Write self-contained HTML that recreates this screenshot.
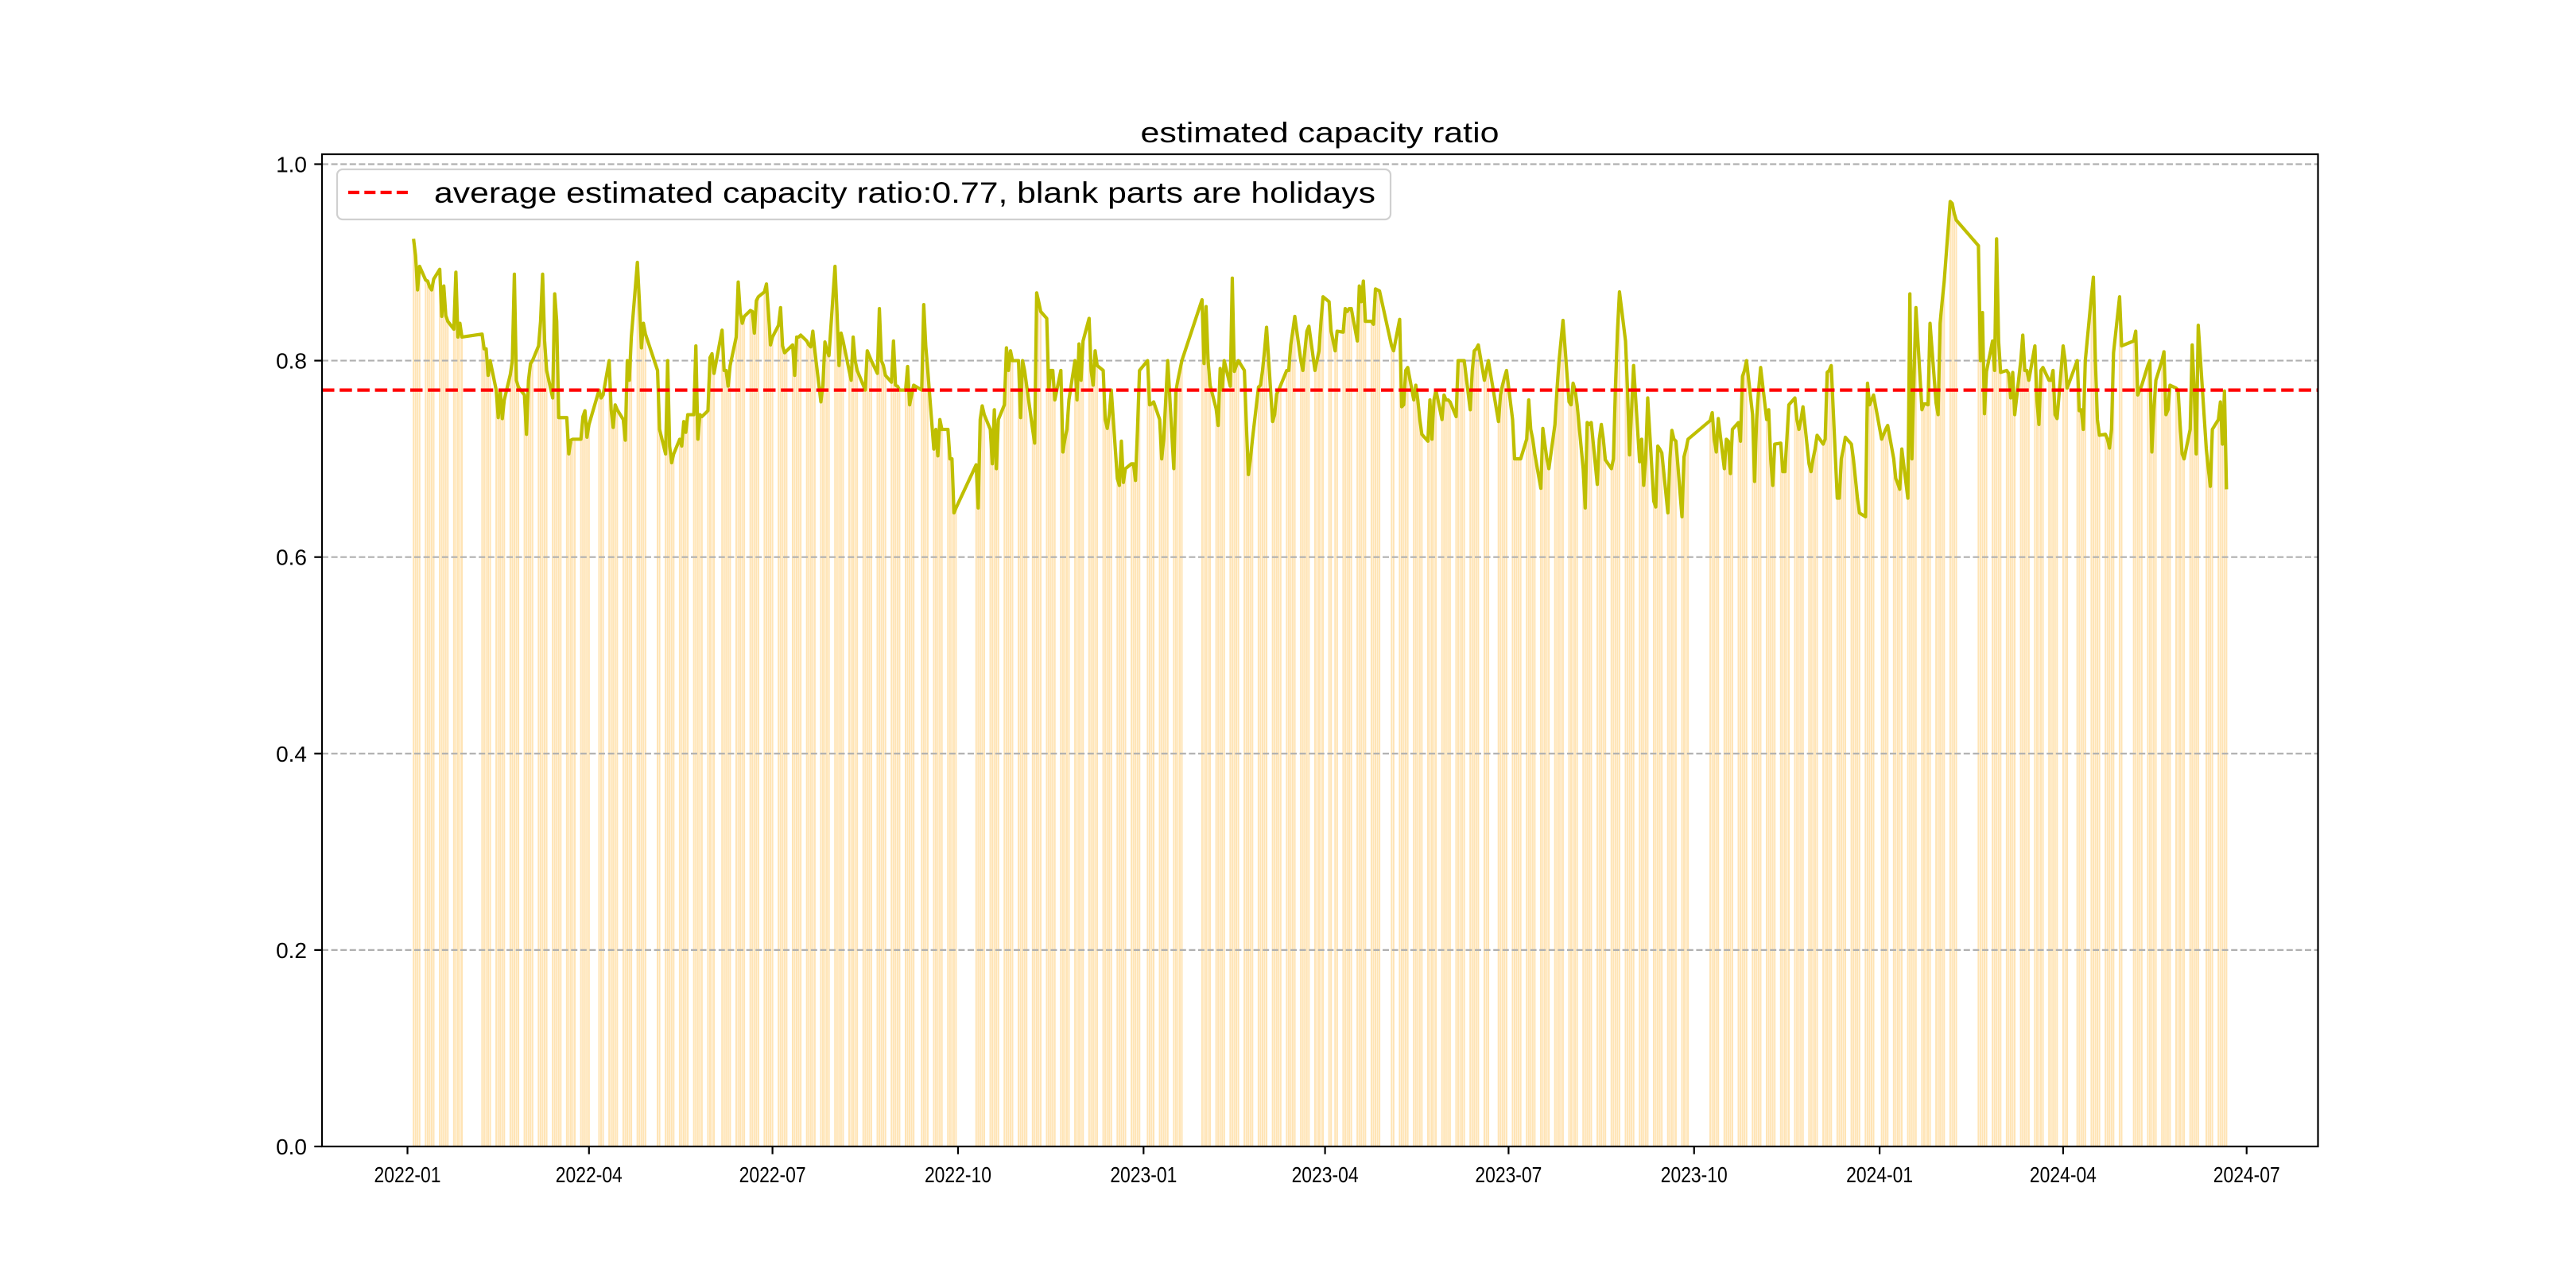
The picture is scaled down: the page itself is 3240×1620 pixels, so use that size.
<!DOCTYPE html>
<html><head><meta charset="utf-8"><style>
html,body{margin:0;padding:0;background:#fff;}
svg{display:block;font-family:"Liberation Sans","WenQuanYi Zen Hei",sans-serif;}
</style></head><body>
<svg id="chart" width="3240" height="1620" viewBox="0 0 3240 1620" xmlns="http://www.w3.org/2000/svg">
<rect x="0" y="0" width="3240" height="1620" fill="#fff"/>
<text x="1660" y="179" font-size="36" text-anchor="middle" textLength="451" lengthAdjust="spacingAndGlyphs">estimated capacity ratio</text>
<g id="plot"></g>
</svg>
<script>
const yTickValues = [0.0, 0.2, 0.4, 0.6, 0.8, 1.0];
const yTickLabels = ["0.0", "0.2", "0.4", "0.6", "0.8", "1.0"];
const xTickDates = ["2022-01-01","2022-04-01","2022-07-01","2022-10-01","2023-01-01","2023-04-01","2023-07-01","2023-10-01","2024-01-01","2024-04-01","2024-07-01"];
const xTickLabels = ["2022-01","2022-04","2022-07","2022-10","2023-01","2023-04","2023-07","2023-10","2024-01","2024-04","2024-07"];
const averageRatio = 0.77;
const startDate = "2022-01-04";
const holidays = ["2022-01-03","2022-01-31","2022-02-01","2022-02-02","2022-02-03","2022-02-04","2022-04-04","2022-04-05","2022-05-02","2022-05-03","2022-05-04","2022-06-03","2022-09-12","2022-10-03","2022-10-04","2022-10-05","2022-10-06","2022-10-07",
"2023-01-02","2023-01-23","2023-01-24","2023-01-25","2023-01-26","2023-01-27","2023-04-05","2023-05-01","2023-05-02","2023-05-03","2023-06-22","2023-06-23","2023-09-29","2023-10-02","2023-10-03","2023-10-04","2023-10-05","2023-10-06",
"2024-01-01","2024-02-09","2024-02-12","2024-02-13","2024-02-14","2024-02-15","2024-02-16","2024-04-04","2024-04-05","2024-05-01","2024-05-02","2024-05-03","2024-06-10"];
const ratioValues = [
0.924,0.907,0.872,0.896, 0.882,0.881,0.875,0.872,0.883, 0.893,0.845,0.876,0.846,0.84, 0.832,0.89,0.824,0.838,0.824,
0.827,0.812,0.812,0.785,0.80, 0.77,0.742,0.77,0.741,0.76, 0.786,0.80,0.888,0.78,0.773, 0.765,0.725,0.78,0.797,0.80,
0.815,0.84,0.888,0.82,0.79, 0.762,0.868,0.84,0.742,0.742, 0.742,0.705,0.719,0.72,0.72, 0.72,0.743,0.749,0.722,0.735,
0.77,0.762,0.765, 0.80,0.75,0.732,0.755,0.75, 0.74,0.719,0.80,0.78,0.824, 0.90,0.86,0.813,0.838,0.827,
0.79,0.73, 0.705,0.80,0.713,0.696,0.705, 0.72,0.713,0.738,0.727,0.745, 0.745,0.815,0.72,0.745,0.743, 0.749,0.803,0.807,0.787,
0.831,0.79,0.79,0.774,0.795, 0.824,0.88,0.849,0.838,0.845, 0.851,0.85,0.828,0.861,0.865, 0.87,0.878,0.849,0.816,0.824,
0.836,0.854,0.815,0.808,0.81, 0.816,0.785,0.824,0.824,0.826, 0.82,0.816,0.814,0.83,0.81, 0.758,0.775,0.819,0.81,0.805,
0.896,0.849,0.795,0.828,0.82, 0.79,0.78,0.824,0.80,0.79, 0.775,0.77,0.81,0.805,0.80, 0.787,0.853,0.80,0.795,0.785,
0.778,0.82,0.775,0.774,0.77, 0.77,0.794,0.755,0.765,0.775, 0.77,0.857,0.815,0.79, 0.71,0.73,0.703,0.74,0.73,
0.73,0.70,0.70,0.645,0.65, 0.694,0.65,0.74,0.754,0.745, 0.73,0.695,0.75,0.69,0.74, 0.755,0.813,0.79,0.81,0.80,
0.80,0.742,0.80,0.79,0.775, 0.73,0.716,0.869,0.86,0.85, 0.843,0.77,0.79,0.79,0.76, 0.79,0.707,0.72,0.73,0.76,
0.80,0.76,0.817,0.78,0.82, 0.843,0.79,0.775,0.81,0.795, 0.79,0.74,0.731,0.745,0.77, 0.68,0.673,0.718,0.676,0.69,
0.695,0.695,0.678,0.73,0.79,
0.80,0.755,0.756,0.758, 0.74,0.70,0.72,0.76,0.80, 0.69,0.768,0.78,0.79,0.80, 0.862,0.797,0.855,0.80,0.775,
0.751,0.734,0.792,0.77,0.80, 0.774,0.884,0.789,0.795,0.80, 0.79,0.734,0.684,0.70,0.72, 0.773,0.775,0.79,0.81,0.834,
0.738,0.745,0.766,0.77,0.775, 0.79,0.79,0.816,0.83,0.845, 0.80,0.79,0.81,0.83,0.835, 0.79,0.80,0.81,0.84,0.865,
0.86,0.83, 0.81,0.83, 0.829,0.853,0.85,0.853,0.853, 0.82,0.876,0.86,0.881,0.84, 0.84,0.837,0.873,0.872,0.871,
0.815,0.81, 0.842,0.753,0.755,0.79,0.793, 0.76,0.775,0.76,0.74,0.725, 0.718,0.76,0.72,0.76,0.77, 0.74,0.765,0.76,0.76,0.758,
0.743,0.80,0.80,0.80,0.80, 0.75,0.79,0.81,0.812,0.816, 0.78,0.79,0.80, 0.738,0.765,0.775,0.783,0.79,
0.74,0.70,0.70,0.70,0.70, 0.72,0.76,0.73,0.72,0.705, 0.67,0.731,0.715,0.70,0.69, 0.735,0.77,0.799,0.82,0.841,
0.758,0.755,0.777,0.77,0.755, 0.69,0.65,0.737,0.735,0.737, 0.674,0.72,0.735,0.72,0.699, 0.69,0.70,0.773,0.83,0.87,
0.82,0.77,0.704,0.75,0.795, 0.697,0.72,0.673,0.70,0.762, 0.657,0.651,0.713,0.71,0.706, 0.645,0.70,0.729,0.72,0.718,
0.641,0.702,0.71,0.72, 0.739,0.747,0.72,0.707,0.741, 0.69,0.72,0.718,0.685,0.73, 0.737,0.718,0.784,0.79,0.80,
0.745,0.677,0.74,0.77,0.793, 0.74,0.75,0.70,0.673,0.715, 0.716,0.687,0.687,0.72,0.755, 0.762,0.74,0.73,0.74,0.753,
0.695,0.687,0.70,0.71,0.724, 0.715,0.72,0.788,0.79,0.795, 0.66,0.66,0.70,0.71,0.722, 0.715,0.70,0.68,0.66,0.645,
0.641,0.777,0.755,0.76,0.765,
0.72,0.725,0.73,0.734, 0.70,0.68,0.675,0.669,0.71, 0.66,0.868,0.70,0.78,0.854, 0.75,0.756,0.756,0.755,0.838,
0.757,0.745,0.838,0.86,0.88, 0.962,0.96,0.95,0.943, 0.917,0.80,0.849,0.746,0.789, 0.82,0.79,0.924,0.82,0.788,
0.79,0.787,0.762,0.788,0.745, 0.80,0.826,0.79,0.79,0.78, 0.815,0.76,0.735,0.79,0.793, 0.78,0.78,0.79,0.745,0.741,
0.815,0.80,0.772, 0.80,0.749,0.75,0.73,0.80, 0.865,0.885,0.80,0.74,0.724, 0.725,0.72,0.711,0.73,0.808,
0.865,0.815, 0.82,0.83,0.765,0.77,0.775, 0.795,0.80,0.707,0.75,0.78, 0.80,0.809,0.745,0.75,0.775,
0.772,0.77,0.735,0.705,0.70, 0.73,0.816,0.77,0.705,0.836, 0.71,0.69,0.672,0.73, 0.74,0.758,0.715,0.769,0.669
];

// build trading-day calendar (days since 2022-01-01)
const DAY = 86400000;
const epoch = Date.UTC(2022,0,1);
function parseDay(s){const p=s.split('-');return (Date.UTC(+p[0],+p[1]-1,+p[2])-epoch)/DAY;}
const holidaySet = new Set(holidays.map(parseDay));
const tradeDays = [];
let cur = parseDay(startDate);
while (tradeDays.length < ratioValues.length) {
  const dow = new Date(epoch + cur*DAY).getUTCDay();
  if (dow !== 0 && dow !== 6 && !holidaySet.has(cur)) tradeDays.push(cur);
  cur++;
}

(function draw(){
  const NS = "http://www.w3.org/2000/svg";
  const plot = document.getElementById('plot');
  const L = 405, R = 2915.5, T = 194, B = 1442;
  const d0 = tradeDays[0]-0.4, d1 = tradeDays[tradeDays.length-1]+0.4;
  const xmin = d0 - 0.05*(d1-d0), xmax = d1 + 0.05*(d1-d0);
  const ymax = 1.05*Math.max.apply(null, ratioValues);
  const xs = d => L + (d - xmin)/(xmax - xmin)*(R - L);
  const ys = v => B - v/ymax*(B - T);
  function mk(tag, attrs, parent){
    const e = document.createElementNS(NS, tag);
    for (const k in attrs) e.setAttribute(k, attrs[k]);
    (parent||plot).appendChild(e); return e;
  }
  // bars
  const gBars = mk('g', {});
  
  
  const bw = 0.8*(R-L)/(xmax-xmin);
  tradeDays.forEach((d,i)=>{
    const v = ratioValues[i];
    const r = mk('rect', {x: xs(d)-bw/2, y: ys(v), width: bw, height: ys(0)-ys(v), fill: '#ffe4b5'}, gBars);
    
    
  });
  // grid lines
  yTickValues.forEach((v,i)=>{
    if (v === 0) return;
    const g = mk('line', {x1: L, x2: R, y1: ys(v), y2: ys(v), stroke: '#b0b0b0', 'stroke-width': 2.2, 'stroke-dasharray': '8,3.6'});
    
    
  });
  // series line
  const pts = tradeDays.map((d,i)=> xs(d).toFixed(2)+','+ys(ratioValues[i]).toFixed(2)).join(' ');
  const pl = mk('polyline', {points: pts, fill: 'none', stroke: '#bfbf00', 'stroke-width': 4.2, 'stroke-linejoin': 'round'});
  
  
  // average line
  const avg = mk('line', {x1: L, x2: R, y1: ys(averageRatio), y2: ys(averageRatio), stroke: '#ff0000', 'stroke-width': 4.2, 'stroke-dasharray': '15.5,6.7'});
  
  
  // spines
  const frame = mk('rect', {x: L, y: T, width: R-L, height: B-T, fill: 'none', stroke: '#000', 'stroke-width': 2.2});
  
  
  // y ticks
  yTickValues.forEach((v,i)=>{
    const t = mk('line', {x1: L-9.7, x2: L, y1: ys(v), y2: ys(v), stroke: '#000', 'stroke-width': 2.2});
    
    
    const lb = mk('text', {x: L-19, y: ys(v)+10, 'font-size': 28, 'text-anchor': 'end', fill: '#000'});
    lb.textContent = yTickLabels[i];
    
    
  });
  // x ticks
  xTickDates.forEach((s,i)=>{
    const x = xs(parseDay(s));
    const t = mk('line', {x1: x, x2: x, y1: B, y2: B+9.7, stroke: '#000', 'stroke-width': 2.2});
    
    
    const lb = mk('text', {x: x, y: B+45, 'font-size': 28, 'text-anchor': 'middle', fill: '#000', textLength: 84, lengthAdjust: 'spacingAndGlyphs'});
    lb.textContent = xTickLabels[i];
    
    
  });
  // legend
  const lg = mk('g', {});
  
  
  const box = mk('rect', {x: 424, y: 213, width: 1325, height: 63, rx: 7, fill: '#fff', 'fill-opacity': 0.8, stroke: '#d0d0d0', 'stroke-width': 2.2}, lg);
  
  
  const sw = mk('line', {x1: 438, x2: 513, y1: 242, y2: 242, stroke: '#ff0000', 'stroke-width': 4.2, 'stroke-dasharray': '14,6.3'}, lg);
  
  
  const lt = mk('text', {x: 546, y: 255, 'font-size': 37, fill: '#000', textLength: 1184, lengthAdjust: 'spacingAndGlyphs'}, lg);
  lt.textContent = 'average estimated capacity ratio:' + averageRatio.toFixed(2) + ', blank parts are holidays';
  
  
})();
</script>
</body></html>
